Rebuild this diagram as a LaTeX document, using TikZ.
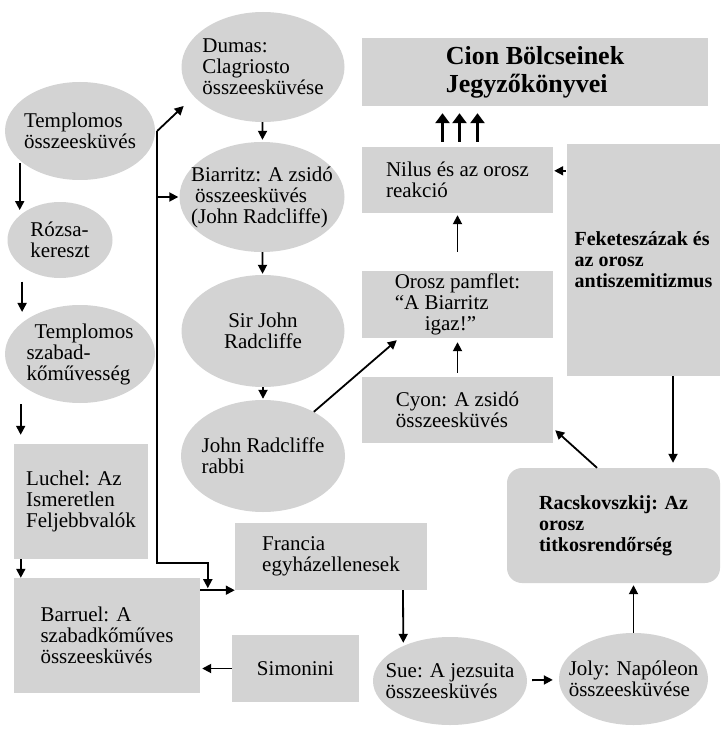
\documentclass[tikz,border=0pt]{standalone}
\usepackage{fontspec}
\setmainfont{Liberation Serif}
\usetikzlibrary{arrows.meta}
\usetikzlibrary{shapes.geometric}
\definecolor{blobgray}{RGB}{211,211,211}

\begin{document}
\begin{tikzpicture}[x = 1pt, y = -1pt, font = \fontsize{21}{21}\selectfont]
	\tikzstyle{BlobStyle} = [shape = ellipse, fill = blobgray, inner sep = -35pt, align = left]
	\tikzstyle{BoxStyle} = [shape = rectangle, fill = blobgray, inner sep = 2pt, align = left]
	\tikzstyle{BoldStyle} = [font = \fontsize{20}{21}\selectfont\bfseries]
	\tikzstyle{EdgeStyle} = [draw, line width = 1.8pt, -{Triangle[length = 9pt, width = 9pt]}]
	\tikzstyle{BigEdgeStyle} = [draw, line width = 2.6pt, -{Triangle[length = 10pt, width = 14pt]}]
	\useasboundingbox (0, 0) rectangle (720, 730);
	\node[BlobStyle, minimum width = 150pt, minimum height = 98pt] (templ) at (80, 131) {Templomos\\összeesküvés};
	\node[BlobStyle, minimum width = 105pt, minimum height = 76pt] (rozsa) at (60, 240) {Rózsa-\\kereszt};
	\node[BlobStyle, minimum width = 150pt, minimum height = 98pt] (tszab) at (80, 354) {\hspace*{8pt}Templomos\\szabad-\\kőművesség};
	\node[BoxStyle, minimum width = 134pt, minimum height = 115pt] (luchel) at (81, 501.5) {Luchel: Az\\Ismeretlen\\Feljebbvalók};
	\node[BoxStyle, minimum width = 186pt, minimum height = 115pt] (barruel) at (107, 635.5) {Barruel: A\\szabadkőműves\\összeesküvés};
	\node[BoxStyle, minimum width = 127pt, minimum height = 67pt] (simonini) at (295.5, 668.5) {Simonini};
	\node[BoxStyle, minimum width = 192pt, minimum height = 67pt] (francia) at (331, 556.5) {Francia\\egyházellenesek};
	\node[BlobStyle, minimum width = 163pt, minimum height = 110pt] (dumas) at (263, 67) {Dumas:\\Clagriosto\\összeesküvése};
	\node[BlobStyle, minimum width = 165pt, minimum height = 110pt] (biarritz) at (262, 197) {Biarritz: A zsidó\\\hspace*{4pt}összeesküvés\\(John Radcliffe)};
	\node[BlobStyle, minimum width = 163pt, minimum height = 112pt, align = center] (sirjohn) at (263, 331) {Sir John\\Radcliffe};
	\node[BlobStyle, minimum width = 164pt, minimum height = 112pt] (rabbi) at (263, 456) {John Radcliffe\\rabbi};
	\node[BlobStyle, minimum width = 154pt, minimum height = 88pt] (sue) at (450, 681) {Sue: A jezsuita\\összeesküvés};
	\node[BlobStyle, minimum width = 149pt, minimum height = 92pt] (joly) at (633.5, 679) {Joly: Napóleon\\összeesküvése};
	\node[BoxStyle, BoldStyle, rounded corners = 15pt, minimum width = 213pt, minimum height = 115pt] (racs) at (613.5, 525.5) {Racskovszkij: Az\\orosz\\titkosrendőrség};
	\node[BoxStyle, BoldStyle, minimum width = 153pt, minimum height = 232pt] (fekete) at (643.5, 260) {Feketeszázak és\\az orosz\\antiszemitizmus};
	\node[BoxStyle, minimum width = 191pt, minimum height = 66pt] (nilus) at (457.5, 180) {Nilus és az orosz\\reakció};
	\node[BoxStyle, minimum width = 191pt, minimum height = 67pt] (orosz) at (457.5, 304.5) {Orosz pamflet:\\“A Biarritz\\\hspace*{30pt}igaz!”};
	\node[BoxStyle, minimum width = 191pt, minimum height = 66pt] (cyon) at (457.5, 410) {Cyon: A zsidó\\összeesküvés};
	\node[BoxStyle, minimum width = 346pt, minimum height = 68pt, font = \fontsize{26}{28}\selectfont\bfseries] (cion) at (535, 72) {Cion Bölcseinek\\Jegyzőkönyvei};
	\coordinate (fork) at ([xshift = 2pt]templ.east);
	\coordinate (elbow) at ([xshift = -27pt, yshift = 27pt]francia.south west);
	\draw[EdgeStyle, shorten <= 3pt, shorten >= 5pt] (templ.206) -- (templ.206 |- rozsa.148);
	\draw[EdgeStyle, shorten <= 15pt, shorten >= 11pt] (rozsa.215) -- (rozsa.215 |- tszab.152);
	\draw[EdgeStyle, shorten <= 20pt, shorten >= 9pt] (tszab.207) -- (tszab.207 |- luchel.north);
	\draw[EdgeStyle] ([xshift = 7pt]luchel.south west) -- ([xshift = 7pt]luchel.south west |- barruel.north);
	\draw[EdgeStyle, shorten >= 2pt] (simonini.west) -- (simonini.west -| barruel.east);
	\draw[EdgeStyle] (barruel.east |- francia.south west) -- (francia.south west);
	\draw[EdgeStyle, shorten >= 14pt] (fork) -- (dumas.203);
	\draw[EdgeStyle, shorten >= 1pt] (fork |- biarritz.west) -- (biarritz.west);
	\draw[EdgeStyle, shorten >= 2pt] (fork) |- (elbow) -- (elbow |- francia.south west);
	\draw[EdgeStyle, shorten >= 2pt] (dumas) -- (biarritz);
	\draw[EdgeStyle, shorten >= 1pt] (biarritz) -- (sirjohn);
	\draw[EdgeStyle, shorten >= 1pt] (sirjohn) -- (rabbi);
	\draw[EdgeStyle] (rabbi.41) -- ([xshift = 35pt, yshift = -2pt]orosz.south west);
	\draw[EdgeStyle, shorten <= 19pt, shorten >= 2pt] (orosz) -- (nilus);
	\draw[EdgeStyle, shorten <= 4pt, shorten >= 4pt] (cyon) -- (orosz);
	\draw[EdgeStyle] ([xshift = -16.5pt]racs.north) -- ([xshift = 2pt, yshift = 13pt]cyon.south east);
	\draw[EdgeStyle, shorten >= 5pt] ([xshift = 29.5pt]fekete.south) -- ([xshift = 29.5pt]fekete.south |- racs.north);
	\draw[EdgeStyle, shorten <= 1pt, shorten >= 1pt] ([yshift = -27pt]fekete.north west) -- ([yshift = -27pt]fekete.north west -| nilus.east);
	\foreach \dx in {-15, 2, 20}
		\draw[BigEdgeStyle, shorten <= 5pt, shorten >= 7pt] ([xshift = \dx pt]nilus.north) -- ([xshift = \dx pt]nilus.north |- cion.south);
	\draw[EdgeStyle, shorten >= 3pt] ([xshift = 72pt]francia.south) -- (sue.143);
	\draw[EdgeStyle, shorten <= 5pt, shorten >= 6pt] (sue) -- (joly);
	\draw[EdgeStyle, shorten >= 2pt] (joly) -- (joly |- racs.south);
\end{tikzpicture}
\end{document}
